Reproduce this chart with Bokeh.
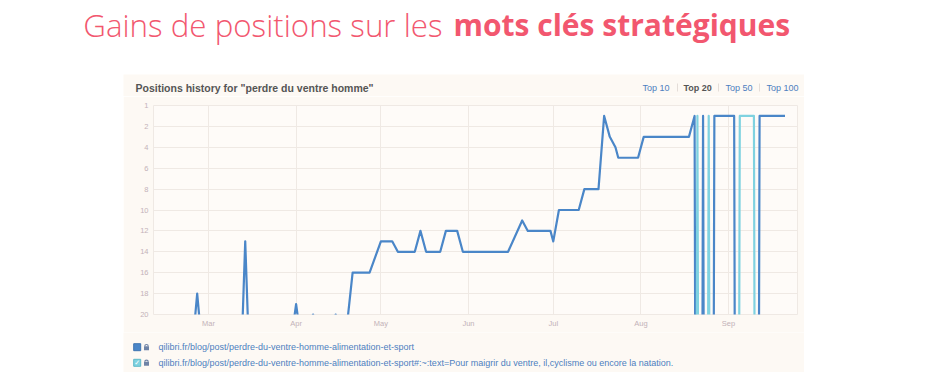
import pandas as pd
from bokeh.plotting import figure
from bokeh.layouts import column, row
from bokeh.models import Range1d, FixedTicker, MonthsTicker, DatetimeTickFormatter, Spacer
from bokeh.core.properties import value
from bokeh.embed import file_html
from bokeh.resources import INLINE

# ---------------- data ----------------
title_light = "Gains de positions sur les"
title_bold = "mots clés stratégiques"
chart_title = 'Positions history for "perdre du ventre homme"'
range_tabs = ["Top 10", "Top 20", "Top 50", "Top 100"]
active_tab = "Top 20"

# series 1: url without anchor (positions, 1 = best; values > 20 are outside the Top 20 view)
blue_dates = ["2021-02-10", "2021-02-24", "2021-02-25", "2021-02-26", "2021-03-13", "2021-03-14",
              "2021-03-15", "2021-03-31", "2021-04-01", "2021-04-02", "2021-04-06", "2021-04-07",
              "2021-04-08", "2021-04-14", "2021-04-15", "2021-04-16", "2021-04-19", "2021-04-21",
              "2021-04-27", "2021-05-01", "2021-05-05", "2021-05-07", "2021-05-13", "2021-05-15",
              "2021-05-17", "2021-05-22", "2021-05-24", "2021-05-28", "2021-05-30", "2021-06-15",
              "2021-06-20", "2021-06-22", "2021-06-30", "2021-07-01", "2021-07-03", "2021-07-10",
              "2021-07-12", "2021-07-17", "2021-07-19", "2021-07-21", "2021-07-23", "2021-07-24",
              "2021-07-31", "2021-08-02", "2021-08-18", "2021-08-20", "2021-08-21", "2021-08-22",
              "2021-08-23", "2021-08-24", "2021-08-26", "2021-08-27", "2021-09-03", "2021-09-04",
              "2021-09-11", "2021-09-12", "2021-09-21"]
blue_pos = [21, 21, 18, 21, 21, 13,
            21, 21, 19, 21, 21, 20,
            21, 21, 20, 21, 21, 16,
            16, 13, 13, 14, 14, 12,
            14, 14, 12, 12, 14, 14,
            11, 12, 12, 13, 10, 10,
            8, 8, 1, 3, 4, 5,
            5, 3, 3, 1, 100, 100,
            1, 100, 100, 1, 1, 100,
            100, 1, 1]

# series 2: url with text anchor
cyan_dates = ["2021-08-20", "2021-08-21", "2021-08-22", "2021-08-24", "2021-08-25", "2021-08-26",
              "2021-09-04", "2021-09-05", "2021-09-10", "2021-09-11", "2021-09-21"]
cyan_pos = [100, 1, 100, 100, 1, 100, 100, 1, 1, 100, 100]

series_labels = [
    "qilibri.fr/blog/post/perdre-du-ventre-homme-alimentation-et-sport",
    "qilibri.fr/blog/post/perdre-du-ventre-homme-alimentation-et-sport#:~:text=Pour maigrir du ventre, il,cyclisme ou encore la natation.",
]

y_tick_values = [0, 2, 4, 6, 8, 10, 12, 14, 16, 18, 20]
y_tick_labels = ["1", "2", "4", "6", "8", "10", "12", "14", "16", "18", "20"]
x_start = "2021-02-09 13:00"
x_end = "2021-09-25 10:00"

assert len(blue_dates) == len(blue_pos)
assert len(cyan_dates) == len(cyan_pos)

# ---------------- styles ----------------
PINK = "#f2576f"
CREAM = "#fdf9f4"
BLUE = "#4a86c8"
CYAN = "#7fd2e0"
LINK = "#4d7fc0"
GRID = "#efe9e4"
AXIS_TXT = "#c3b2b8"
FONT = "Liberation Sans"


def canvas(w, h, bg):
    p = figure(width=w, height=h, x_range=Range1d(0, w), y_range=Range1d(0, h),
               x_axis_location=None, y_axis_location=None, toolbar_location=None,
               output_backend="svg", min_border=0, frame_align=False)
    p.grid.visible = False
    p.outline_line_color = None
    p.background_fill_color = bg
    p.border_fill_color = bg
    return p


# title
W = 911
tp = canvas(W, 74, "white")
tp.text(x=[442], y=[50], text=[title_light], text_align="right", text_baseline="alphabetic",
        text_font=value("Open Sans Light"), text_font_size="31.3px", text_color=PINK)
tp.text(x=[453], y=[50], text=[title_bold], text_align="left", text_baseline="alphabetic",
        text_font=value("Open Sans"), text_font_style="bold", text_font_size="30px", text_color=PINK)

PW = 681
# header of panel
hp = canvas(PW, 22, CREAM)
hp.text(x=[12], y=[9], text=[chart_title], text_baseline="middle",
        text_font=value(FONT), text_font_style="bold", text_font_size="10.5px", text_color="#555555")
tab_x = [519, 560, 602, 643]
for tx, lab in zip(tab_x, range_tabs):
    active = lab == active_tab
    hp.text(x=[tx], y=[9], text=[lab], text_baseline="middle", text_font=value(FONT),
            text_font_style="bold" if active else "normal", text_font_size="9px",
            text_color="#555555" if active else LINK)
hp.segment(x0=[554, 595, 636], y0=[5, 5, 5], x1=[554, 595, 636], y1=[13, 13, 13],
           line_color="#e4ddd8", line_width=1)

# chart
cp = figure(width=PW, height=236, x_axis_type="datetime",
            x_range=Range1d(pd.Timestamp(x_start), pd.Timestamp(x_end)),
            y_range=Range1d(20, 0), toolbar_location=None, output_backend="svg",
            min_border_left=30, min_border_right=7, min_border_top=9, min_border_bottom=18,
            frame_align=False)
cp.background_fill_color = "#fefbf8"
cp.border_fill_color = CREAM
cp.outline_line_color = GRID
cp.line(pd.to_datetime(blue_dates), blue_pos, line_color=BLUE, line_width=2.2, line_join="round")
cp.line(pd.to_datetime(cyan_dates), cyan_pos, line_color=CYAN, line_width=2.2, line_join="round")

cp.xaxis.ticker = MonthsTicker(months=list(range(12)))
cp.xaxis.formatter = DatetimeTickFormatter(months="%b", days="%b", years="%b")
cp.yaxis.ticker = FixedTicker(ticks=y_tick_values)
cp.yaxis.major_label_overrides = {v: l for v, l in zip(y_tick_values, y_tick_labels)}
for ax in (cp.xaxis, cp.yaxis):
    ax.axis_line_color = None
    ax.major_tick_line_color = None
    ax.minor_tick_line_color = None
    ax.major_tick_out = 0
    ax.major_tick_in = 0
    ax.minor_tick_out = 0
    ax.major_label_text_color = AXIS_TXT
    ax.major_label_text_font = FONT
    ax.major_label_text_font_size = "7.5px"
cp.xaxis.major_label_standoff = 4
cp.yaxis.major_label_standoff = 5
cp.xgrid.grid_line_color = GRID
cp.ygrid.grid_line_color = GRID

# legend
lp = canvas(PW, 40, CREAM)
rows_y = [25.3, 9.7]
colors = [BLUE, CYAN]
lp.rect(x=[13.7, 13.7], y=rows_y, width=7, height=7, fill_color=colors, line_color=["#3f74b0", "#5fb9c9"])
lp.text(x=[13.7], y=[rows_y[1]], text=["✓"], text_align="center", text_baseline="middle",
        text_font=value("DejaVu Sans"), text_font_size="7px", text_color="white")
lp.rect(x=[23, 23], y=[r - 1 for r in rows_y], width=5, height=4, fill_color="#6f83a6", line_color=None)
lp.arc(x=[23, 23], y=[r + 1 for r in rows_y], radius=1.7, start_angle=0, end_angle=3.1416,
       line_color="#6f83a6", line_width=1.2)
lp.text(x=[35, 35], y=rows_y, text=series_labels, text_baseline="middle",
        text_font=value(FONT), text_font_size="9px", text_color=LINK)

layout = column(tp, row(Spacer(width=123, height=298), column(hp, cp, lp)))

open("out.html", "w").write(file_html(layout, INLINE))
